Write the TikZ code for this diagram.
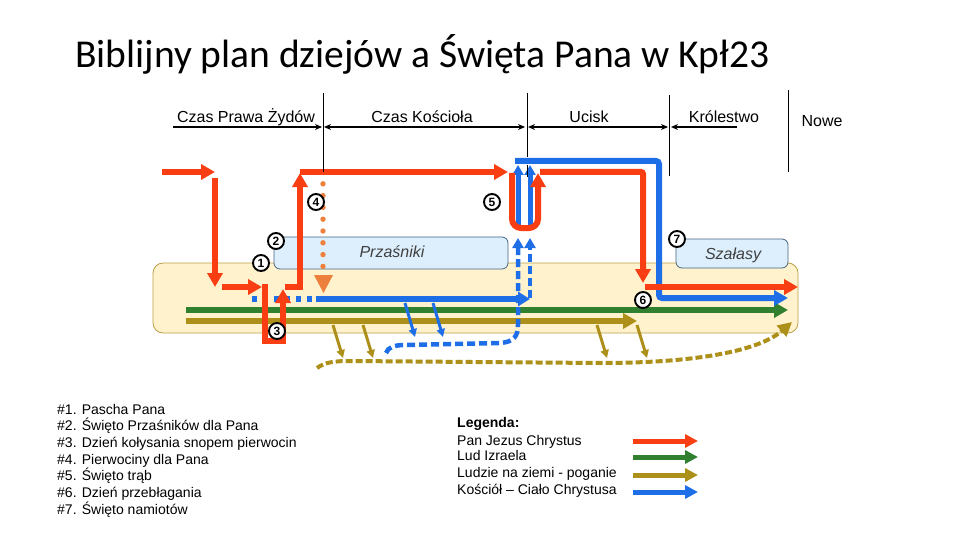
\documentclass[tikz,border=0pt]{standalone}
\usepackage{fontspec}
\setmainfont{Liberation Sans}
\newfontfamily\titlefont{Carlito}
\usetikzlibrary{arrows.meta}
\definecolor{jred}{RGB}{250,62,20}
\definecolor{jblue}{RGB}{30,110,232}
\definecolor{jgreen}{RGB}{48,128,48}
\definecolor{jolive}{RGB}{172,144,26}
\definecolor{jorange}{RGB}{237,128,60}
\definecolor{bandfill}{RGB}{255,242,204}
\definecolor{bandline}{RGB}{185,160,70}
\definecolor{boxfill}{RGB}{221,239,252}
\definecolor{boxline}{RGB}{70,100,130}
\tikzset{
  fat/.style={line width=6pt},
  fathead/.style={-{Triangle[length=14pt,width=15pt]}},
  thinhead/.style={line width=3pt,-{Triangle[length=8pt,width=8pt]}},
  legarrow/.style={line width=5pt,-{Triangle[length=13pt,width=13pt]}},
  timeline/.style={line width=2pt},
  tlhead/.tip={Stealth[length=7pt,width=6pt]},
  sep/.style={line width=0.8pt},
  num/.style={circle,draw=black,line width=1.9pt,fill=white,minimum size=16pt,inner sep=0pt,font=\fontsize{12}{12}\selectfont\bfseries},
  lbl/.style={font=\fontsize{16}{18}\selectfont,anchor=base},
  box/.style={draw=boxline,line width=0.8pt,fill=boxfill,rounded corners=6pt},
  boxtxt/.style={font=\fontsize{16}{18}\selectfont\itshape,text=black!75,anchor=base},
  listtxt/.style={font=\fontsize{14}{16.7}\selectfont,anchor=base west,inner sep=0pt}
}
\begin{document}
\begin{tikzpicture}[x=1pt,y=-1pt]
\useasboundingbox (0,0) rectangle (960,540);
% title
\node[anchor=base west,inner sep=0pt,font=\titlefont\fontsize{39.5}{44}\selectfont] (title) at (75,68) {Biblijny plan dziejów a Święta Pana w Kpł23};
% timeline labels
\node[lbl] (tl1) at (246,123) {Czas Prawa Żydów};
\node[lbl] (tl2) at (422,123) {Czas Kościoła};
\node[lbl] (tl3) at (589,123) {Ucisk};
\node[lbl] (tl4) at (724,123) {Królestwo};
\node[lbl] (tl5) at (822,127) {Nowe};
% band and boxes
\draw[fill=bandfill,draw=bandline,line width=0.8pt,rounded corners=10pt] (153,263) rectangle (798,333);
\draw[box] (274,237) rectangle (508,269);
\node[boxtxt] (przas) at (392,257) {Przaśniki};
\draw[box] (676,239) rectangle (788,268);
\node[boxtxt] (szal) at (733,259) {Szałasy};
% green and olive main lines
\draw[fat,jgreen,fathead] (186,310) -- (788,310);
\draw[fat,jolive,fathead] (186,321) -- (637,321);
% olive small arrows
\foreach \x in {333,363,597,637} \draw[jolive,thinhead] (\x,325) -- (\x+10,358);
% olive dashed curve
\draw[jolive,line width=4pt,dash pattern=on 7pt off 3pt,-{Triangle[length=14pt,width=14pt]}]
  (317,368) .. controls (325,362) and (335,361) .. (350,361) -- (600,363)
  .. controls (700,363) and (760,350) .. (792,322);
% blue small arrows
\foreach \x in {405,433} \draw[jblue,thinhead] (\x,303) -- (\x+10,337);
% blue lower dashed curve
\draw[jblue,line width=4.5pt,dash pattern=on 8pt off 4pt,-{Triangle[length=10pt,width=11pt]}]
  (386,353) .. controls (388,347) and (395,345) .. (405,345) -- (500,343)
  .. controls (514,342) and (518,336) .. (518,325) -- (518,238);
\draw[jblue,line width=4.5pt,dash pattern=on 8pt off 4pt,-{Triangle[length=10pt,width=11pt]}]
  (530,298) -- (530,238);
% blue horizontal at y=299
\draw[jblue,line width=6pt,dash pattern=on 5pt off 6pt] (252,299) -- (316,299);
\draw[jblue,fat,-{Triangle[length=12pt,width=14pt]}] (316,299) -- (530,299);
% blue solid up arrows
\draw[jblue,line width=5pt,-{Triangle[length=10pt,width=11pt]}] (518,227) -- (518,165);
\draw[jblue,line width=5pt,-{Triangle[length=10pt,width=11pt]}] (530,227) -- (530,165);
% blue top path
\draw[jblue,fat,rounded corners=3pt,fathead] (515,161) -- (659,161) -- (659,298) -- (788,298);
% orange dotted
\foreach \k in {0,...,8} \fill[jorange] (323,172+11.8*\k) circle (2.7pt);
\fill[jorange] (314,275) -- (333,275) -- (323.5,293) -- cycle;
% red paths
\draw[jred,fat,fathead] (162,172) -- (215,172);
\draw[jred,fat,fathead] (215,178) -- (215,287);
\draw[jred,fat,fathead] (222,287) -- (262,287);
\draw[jred,fat,fathead] (265,284) -- (265,341) -- (283,341) -- (283,289);
\draw[jred,fat,fathead] (285,287) -- (300,287) -- (300,173);
\draw[jred,fat,fathead] (300,172) -- (508,172);
\draw[jred,fat,rounded corners=9pt,fathead] (512,173) -- (512,228) -- (538,228) -- (538,173);
\draw[jred,fat,rounded corners=2pt,fathead] (540,172) -- (643,172) -- (643,283);
\draw[jred,fat,fathead] (645,287) -- (798,287);
% timeline arrows and separators
\draw[timeline,-{tlhead}] (173,127) -- (322,127);
\draw[timeline,{tlhead}-{tlhead}] (324,127) -- (525,127);
\draw[timeline,{tlhead}-{tlhead}] (528,127) -- (668,127);
\draw[timeline,{tlhead}-] (671,127) -- (737,127);
\draw[sep] (323,93) -- (323,172);
\draw[sep] (527,93) -- (527,157);
\draw[sep] (527,165) -- (527,177);
\draw[sep] (669,95) -- (669,176);
\draw[sep] (788,90) -- (788,172);
% number circles
\node[num] (n1) at (261,263) {1};
\node[num] (n2) at (276,241) {2};
\node[num] (n3) at (277,331) {3};
\node[num] (n4) at (316,202) {4};
\node[num] (n5) at (492,202) {5};
\node[num] (n6) at (643,300) {6};
\node[num] (n7) at (677,239) {7};
% list
\node[listtxt] (l1) at (57,414) {\#1. Pascha Pana};
\node[listtxt] (l2) at (57,430.7) {\#2. Święto Przaśników dla Pana};
\node[listtxt] (l3) at (57,447.3) {\#3. Dzień kołysania snopem pierwocin};
\node[listtxt] (l4) at (57,464) {\#4. Pierwociny dla Pana};
\node[listtxt] (l5) at (57,480.7) {\#5. Święto trąb};
\node[listtxt] (l6) at (57,497.3) {\#6. Dzień przebłagania};
\node[listtxt] (l7) at (57,514) {\#7. Święto namiotów};
% legend
\node[listtxt,font=\fontsize{14}{16.7}\selectfont\bfseries] (lg0) at (457,427) {Legenda:};
\node[listtxt] (lg1) at (457,445) {Pan Jezus Chrystus};
\node[listtxt] (lg2) at (457,460.5) {Lud Izraela};
\node[listtxt] (lg3) at (457,477) {Ludzie na ziemi - poganie};
\node[listtxt] (lg4) at (457,494) {Kościół – Ciało Chrystusa};
\coordinate (a1s) at (633,441); \coordinate (a1e) at (698,441);
\coordinate (a2s) at (633,457); \coordinate (a2e) at (698,457);
\coordinate (a3s) at (633,475); \coordinate (a3e) at (698,475);
\coordinate (a4s) at (633,492); \coordinate (a4e) at (698,492);
\draw[legarrow,jred] (a1s) -- (a1e);
\draw[legarrow,jgreen] (a2s) -- (a2e);
\draw[legarrow,jolive] (a3s) -- (a3e);
\draw[legarrow,jblue] (a4s) -- (a4e);
\end{tikzpicture}
\end{document}
